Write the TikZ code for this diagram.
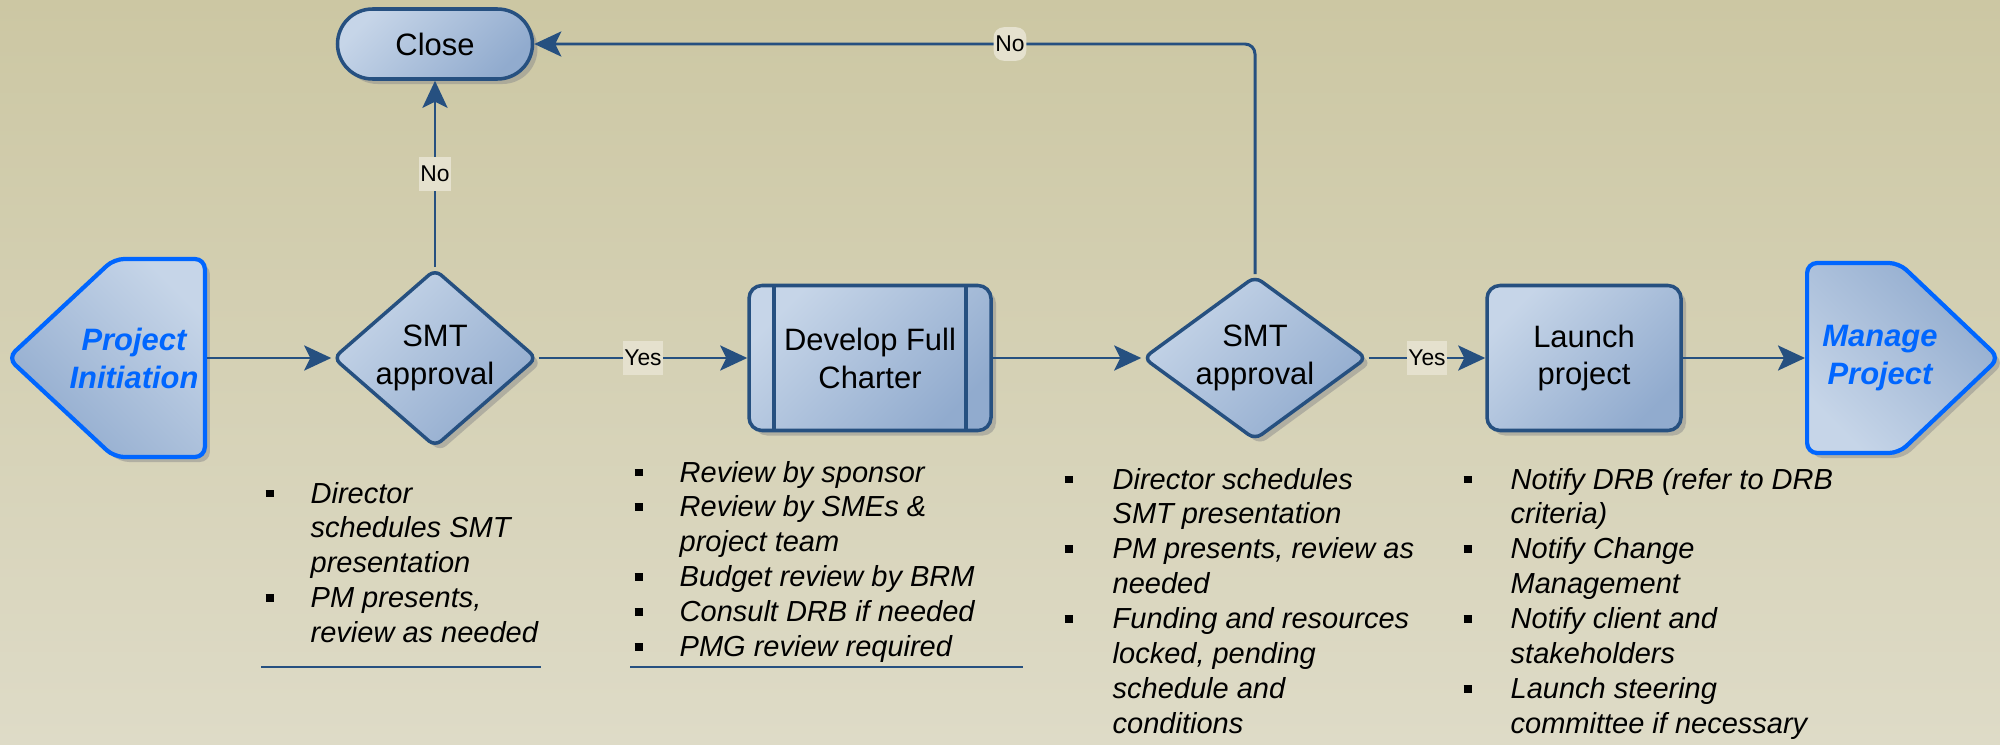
\documentclass[tikz,border=0pt]{standalone}
\usepackage{fontspec}
\setmainfont{Liberation Sans}
\usetikzlibrary{arrows.meta,shapes.geometric,shapes.symbols,shadows}

\definecolor{bgtop}{RGB}{204,199,163}
\definecolor{bgbot}{RGB}{222,219,199}
\definecolor{boxlight}{RGB}{198,213,232}
\definecolor{boxdark}{RGB}{145,171,206}
\definecolor{edge}{RGB}{38,80,128}
\definecolor{endblue}{RGB}{0,102,255}
\definecolor{tagbg}{RGB}{229,225,206}

\newcommand{\sqbul}{\rule[0.06cm]{0.08cm}{0.075cm}}

\tikzset{
	flow/.style={draw=edge, line width=1pt, top color=boxlight, bottom color=boxdark, shading angle=45,
		drop shadow={shadow xshift=0.05cm, shadow yshift=-0.05cm, fill=black!45, opacity=0.5},
		font=\fontsize{8.8}{10.8}\selectfont, align=center, inner sep=0pt},
	decision/.style={flow, diamond, rounded corners=0.08cm},
	procbox/.style={flow, rectangle, rounded corners=0.13cm, minimum width=1.94cm, minimum height=1.45cm},
	endpoint/.style={flow, signal, signal from=nowhere, draw=endblue, line width=1.2pt, rounded corners=0.1cm},
	endtext/.style={text=endblue, align=center, inner sep=0pt, font=\fontsize{8.8}{10.8}\selectfont\bfseries\itshape},
	link/.style={draw=edge, line width=0.85pt, -{Stealth[length=0.27cm, width=0.25cm, inset=0.06cm]}},
	tag/.style={fill=tagbg, font=\fontsize{6.5}{7}\selectfont, inner xsep=0.5pt, inner ysep=2.5pt},
	notes/.style={anchor=base west, inner sep=0pt, font=\fontsize{8.25}{9.95}\selectfont\itshape}
}

\begin{document}
\begin{tikzpicture}
		%%%%% START %%%%%
		
		\shade[top color=bgtop, bottom color=bgbot] (0, 0) rectangle (20, 7.44);
		\useasboundingbox (0, 0) rectangle (20, 7.44);
		
		\node[endpoint, signal to=west, shading angle=-45, signal pointer angle=86, minimum width=1.97cm, minimum height=1.98cm, anchor=east] (init) at (2.07, 3.86) {};
		\node[endtext] (initText) at ([xshift=-0.73cm]init.east) {Project\\Initiation};
		\node[decision, aspect=1.15, minimum width=2.04cm, minimum height=1.78cm] (smtA) at (4.35, 3.86) {SMT\\approval};
		\node[flow, rectangle, rounded corners=0.35cm, minimum width=1.95cm, minimum height=0.7cm] (close) at (4.35, 7.0) {Close};
		\node[procbox, minimum width=2.42cm,
			path picture={\draw[edge, line width=1pt]
				([xshift=0.25cm]path picture bounding box.north west) -- ([xshift=0.25cm]path picture bounding box.south west)
				([xshift=-0.25cm]path picture bounding box.north east) -- ([xshift=-0.25cm]path picture bounding box.south east);}]
			(charter) at (8.7, 3.86) {Develop Full\\Charter};
		\node[decision, aspect=1.37, minimum width=2.24cm, minimum height=1.64cm] (smtB) at (12.55, 3.86) {SMT\\approval};
		\node[procbox] (launch) at (15.84, 3.86) {Launch\\project};
		\node[endpoint, signal to=east, shading angle=135, signal pointer angle=87, minimum width=1.92cm, minimum height=1.9cm, anchor=west] (manage) at (18.05, 3.86) {};
		\node[endtext] (manageText) at ([xshift=0.75cm]manage.west) {Manage\\Project};
		
		\draw[link] (init.east) -- (smtA.west);
		\draw[link] (smtA.north) -- node[tag] {No} (close.south);
		\draw[link] (smtA.east) -- node[tag] {Yes} (charter.west);
		\draw[link] (charter.east) -- (smtB.west);
		\draw[link] (smtB.east) -- node[tag] {Yes} (launch.west);
		\draw[link] (launch.east) -- (manage.west);
		\draw[link, rounded corners=0.1cm] (smtB.north) |- node[tag, pos=0.67] {No} (close.east);
		
		\node[notes] (notesA) at (2.65, 2.41) {\begin{tabular}[t]{@{}l@{\hspace{0.37cm}}l@{}}
			\sqbul & Director\\ & schedules SMT\\ & presentation\\
			\sqbul & PM presents,\\ & review as needed
		\end{tabular}};
		\node[notes] (notesB) at (6.34, 2.62) {\begin{tabular}[t]{@{}l@{\hspace{0.37cm}}l@{}}
			\sqbul & Review by sponsor\\
			\sqbul & Review by SMEs \&\\ & project team\\
			\sqbul & Budget review by BRM\\
			\sqbul & Consult DRB if needed\\
			\sqbul & PMG review required
		\end{tabular}};
		\node[notes] (notesC) at (10.64, 2.55) {\begin{tabular}[t]{@{}l@{\hspace{0.4cm}}l@{}}
			\sqbul & Director schedules\\ & SMT presentation\\
			\sqbul & PM presents, review as\\ & needed\\
			\sqbul & Funding and resources\\ & locked, pending\\ & schedule and\\ & conditions
		\end{tabular}};
		\node[notes] (notesD) at (14.63, 2.55) {\begin{tabular}[t]{@{}l@{\hspace{0.39cm}}l@{}}
			\sqbul & Notify DRB (refer to DRB\\ & criteria)\\
			\sqbul & Notify Change\\ & Management\\
			\sqbul & Notify client and\\ & stakeholders\\
			\sqbul & Launch steering\\ & committee if necessary
		\end{tabular}};
		
		\draw[edge, line width=0.6pt] (2.61, 0.77) -- (5.41, 0.77);
		\draw[edge, line width=0.6pt] (6.3, 0.77) -- (10.23, 0.77);
		
		%%%%% END %%%%%
	\end{tikzpicture}
\end{document}
